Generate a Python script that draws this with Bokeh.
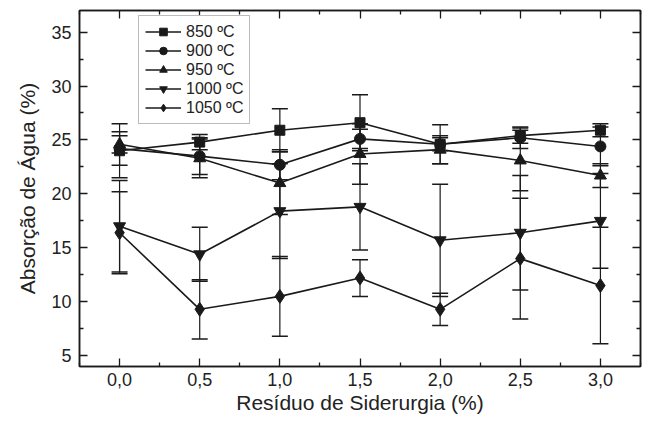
from bokeh.plotting import figure
from bokeh.models import (ColumnDataSource, Whisker, TeeHead, FixedTicker, LinearAxis,
                          Range1d, Legend, LegendItem, CustomJSTickFormatter)
from bokeh.embed import file_html
from bokeh.resources import INLINE

# ---- data ----
residuo = [0.0, 0.5, 1.0, 1.5, 2.0, 2.5, 3.0]
x_tick_values = [0.0, 0.5, 1.0, 1.5, 2.0, 2.5, 3.0]
x_tick_labels = ["0,0", "0,5", "1,0", "1,5", "2,0", "2,5", "3,0"]
y_tick_values = [5, 10, 15, 20, 25, 30, 35]

abs_850 = [24.0, 24.8, 25.9, 26.6, 24.6, 25.4, 25.9]
err_850 = [2.5, 0.7, 2.0, 2.6, 1.8, 0.7, 0.6]
abs_900 = [24.2, 23.5, 22.7, 25.1, 24.6, 25.2, 24.4]
err_900 = [1.55, 1.7, 1.4, 0.9, 0.6, 1.0, 1.8]
abs_950 = [24.6, 23.3, 21.0, 23.7, 24.1, 23.1, 21.7]
err_950 = [0.8, 1.8, 2.9, 2.8, 1.3, 2.8, 1.1]
abs_1000 = [17.0, 14.4, 18.4, 18.8, 15.7, 16.4, 17.5]
err_1000 = [4.25, 2.5, 4.4, 4.0, 5.2, 5.3, 4.4]
abs_1050 = [16.4, 9.3, 10.5, 12.2, 9.3, 14.0, 11.5]
err_1050 = [3.8, 2.75, 3.7, 1.7, 1.5, 5.6, 5.4]

series = [
    ("850 ºC", abs_850, err_850, "square", 10),
    ("900 ºC", abs_900, err_900, "circle", 11),
    ("950 ºC", abs_950, err_950, "triangle", 12),
    ("1000 ºC", abs_1000, err_1000, "inverted_triangle", 12),
    ("1050 ºC", abs_1050, err_1050, "diamond", 14),
]

INK = "#1a1a1a"
TXT = "#222222"
FONT = "Liberation Sans"

p = figure(width=642, height=423, output_backend="svg", toolbar_location=None,
           x_range=Range1d(-0.25, 3.25), y_range=Range1d(4, 37),
           min_border_left=79, min_border_right=2, min_border_top=10, min_border_bottom=57)
p.background_fill_color = "white"
p.border_fill_color = "white"
p.outline_line_color = INK
p.outline_line_width = 1.5
p.grid.visible = False

xt = FixedTicker(ticks=x_tick_values, minor_ticks=[-0.25 + 0.5 * i for i in range(8)])
yt = FixedTicker(ticks=y_tick_values, minor_ticks=[7.5, 12.5, 17.5, 22.5, 27.5, 32.5])


def style_axis(ax, ticker):
    ax.ticker = ticker
    ax.axis_line_color = INK
    ax.axis_line_width = 1.5
    ax.major_tick_line_color = INK
    ax.minor_tick_line_color = INK
    ax.major_tick_line_width = 1.3
    ax.minor_tick_line_width = 1.3
    ax.major_tick_in = 8
    ax.major_tick_out = 0
    ax.minor_tick_in = 4
    ax.minor_tick_out = 0
    ax.major_label_text_font = FONT
    ax.major_label_text_color = TXT
    ax.major_label_text_font_size = "18px"
    ax.axis_label_text_font = FONT
    ax.axis_label_text_font_style = "normal"
    ax.axis_label_text_color = TXT
    ax.axis_label_text_font_size = "21px"


style_axis(p.xaxis[0], xt)
style_axis(p.yaxis[0], yt)
p.xaxis[0].major_label_overrides = {v: s for v, s in zip(x_tick_values, x_tick_labels)}
p.xaxis[0].major_label_standoff = 6
p.yaxis[0].major_label_standoff = 8
p.xaxis[0].axis_label = "Resíduo de Siderurgia (%)"
p.yaxis[0].axis_label = "Absorção de Água (%)"
p.xaxis[0].axis_label_standoff = 2
p.yaxis[0].axis_label_standoff = 9

blank = CustomJSTickFormatter(code="return '';")
top_ax = LinearAxis(formatter=blank)
style_axis(top_ax, xt)
right_ax = LinearAxis(formatter=blank)
style_axis(right_ax, yt)
for ax in (top_ax, right_ax):
    ax.major_label_standoff = 0
    ax.major_label_text_font_size = "1px"
p.add_layout(top_ax, "above")
p.add_layout(right_ax, "right")

items = []
for label, vals, errs, marker, size in series:
    src = ColumnDataSource(dict(
        x=residuo, y=vals,
        upper=[v + e for v, e in zip(vals, errs)],
        lower=[v - e for v, e in zip(vals, errs)],
    ))
    w = Whisker(base="x", upper="upper", lower="lower", dimension="height", source=src,
                line_color=INK, line_width=1.2,
                upper_head=TeeHead(size=16, line_color=INK, line_width=1.5),
                lower_head=TeeHead(size=16, line_color=INK, line_width=1.5))
    p.add_layout(w)
    ln = p.line("x", "y", source=src, line_color=INK, line_width=1.6)
    sc = p.scatter("x", "y", source=src, marker=marker, size=size,
                   fill_color=INK, line_color=INK)
    items.append(LegendItem(label=label, renderers=[ln, sc]))

legend = Legend(items=items, location=(59, 242))
legend.label_text_font = FONT
legend.label_text_font_size = "16px"
legend.label_text_color = TXT
legend.glyph_width = 36
legend.glyph_height = 19
legend.label_height = 19
legend.spacing = 0
legend.padding = 6
legend.margin = 0
legend.label_standoff = 5
legend.border_line_color = "#777777"
legend.border_line_width = 1
legend.background_fill_color = "white"
legend.background_fill_alpha = 1.0
p.add_layout(legend, "center")

open("out.html", "w").write(file_html(p, INLINE))
